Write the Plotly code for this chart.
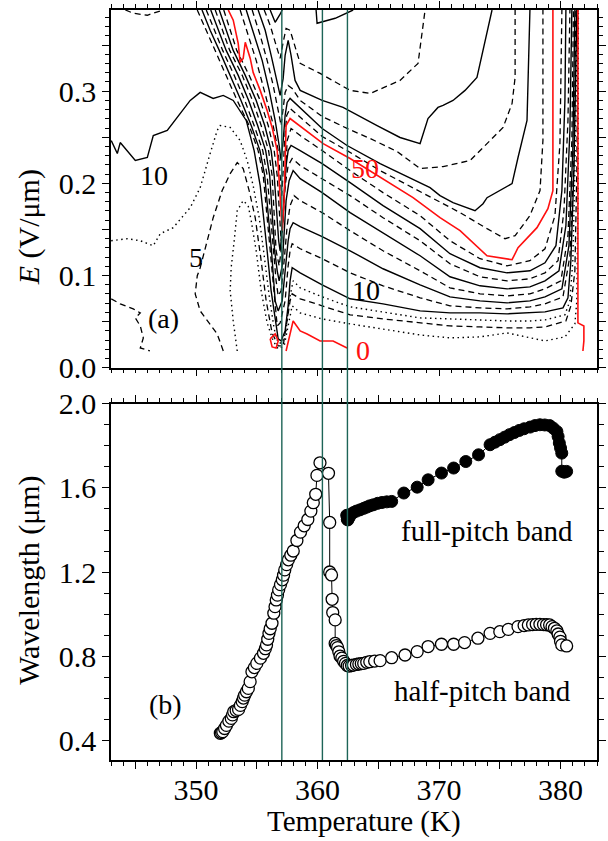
import plotly.graph_objects as go

# ---------------- panel (b): wavelength vs temperature ----------------
open_T = [352.0,352.1,352.2,352.35,352.5,352.7,352.9,353.0,353.1,353.3,
          353.5,353.65,353.8,353.9,354.0,354.15,354.3,354.45,354.6,354.8,
          355.0,355.3,355.55,355.7,355.8,355.9,356.0,356.1,356.25,356.4,
          356.5,356.6,356.7,356.8,356.95,357.1,357.2,357.3,357.45,357.6,
          357.8,358.0,358.3,358.6,358.9,359.2,359.45,359.65,359.85,359.95,
          360.2,360.9,361.0,361.0,361.15,361.2,361.25,361.45,361.45,361.55,
          361.65,361.75,361.85,362.0,362.15,362.3,362.45,362.6,362.8,362.95,
          363.2,363.4,363.6,363.8,364.05,364.3,364.7,365.15,366.1,367.2,
          368.2,369.1,370.2,371.2,372.1,373.2,374.2,375.0,375.7,376.5,
          377.0,377.35,377.7,378.0,378.3,378.6,378.85,379.1,379.3,379.5,
          379.7,379.8,379.95,380.0,380.1,380.5]
open_L = [0.432,0.436,0.44,0.455,0.47,0.49,0.503,0.52,0.535,0.541,
          0.546,0.565,0.583,0.60,0.614,0.63,0.646,0.678,0.725,0.745,
          0.765,0.79,0.813,0.835,0.853,0.88,0.908,0.93,0.956,1.004,
          1.035,1.067,1.09,1.115,1.14,1.163,1.185,1.21,1.235,1.258,
          1.28,1.30,1.35,1.39,1.42,1.45,1.49,1.53,1.57,1.66,
          1.72,1.67,1.436,1.20,1.186,1.07,1.007,0.972,0.86,0.85,
          0.84,0.82,0.80,0.79,0.775,0.765,0.755,0.752,0.755,0.757,
          0.76,0.762,0.764,0.765,0.77,0.773,0.776,0.778,0.792,0.805,
          0.821,0.845,0.856,0.856,0.864,0.885,0.908,0.916,0.927,0.94,
          0.945,0.948,0.95,0.951,0.951,0.95,0.949,0.948,0.94,0.932,
          0.92,0.905,0.89,0.87,0.853,0.848]
full_T = [362.4,362.45,362.5,362.6,362.75,362.95,363.2,363.5,363.8,364.05,
          364.3,364.6,364.95,365.3,365.7,366.1,367.1,368.2,369.1,370.2,
          371.2,372.2,373.25,374.2,374.6,375.0,375.4,375.8,376.2,376.6,
          377.0,377.5,377.9,378.3,378.7,379.1,379.4,379.7,379.8,379.9,
          380.0,380.1,380.1,380.3,380.5]
full_L = [1.47,1.45,1.448,1.46,1.475,1.483,1.49,1.496,1.503,1.509,
          1.515,1.52,1.527,1.531,1.534,1.536,1.576,1.604,1.639,1.671,
          1.695,1.726,1.758,1.806,1.818,1.83,1.842,1.854,1.864,1.874,
          1.882,1.89,1.897,1.901,1.9,1.897,1.885,1.869,1.845,1.814,
          1.79,1.766,1.68,1.675,1.679]

# marker temperatures (vertical lines)
vline_T = [357.06, 360.40, 362.46]

c0a_T = [356.10,356.26,356.59,356.76,356.51,356.10]
c0a_E = [.0312,.0225,.0214,.0290,.0366,.0312]
c0b_T = [357.41,357.74,357.99,358.57,359.14,360.21,361.28,362.43]
c0b_E = [.0181,.0366,.0507,.0399,.0366,.0290,.0290,.0214]
c0c_T = [381.43,381.43,381.92,381.92,381.84]
c0c_E = [.388,.0486,.0453,.0290,.0181]

c2p5_T = [353.39,353.06,352.81,352.89,353.14,353.39,353.88,354.29,354.54,354.95,
          355.36,355.85,356.35,356.76,357.25,357.58,357.91,358.57,360.38,362.68,
          365.39,368.44,370.90,373.37,375.60,377.48,378.72,380.36,381.18,381.34,
          381.43,381.47]
c2p5_E = [.0181,.0507,.0834,.1084,.1377,.1703,.1812,.1758,.1595,.1268,
          .0834,.0486,.0290,.0203,.0236,.0453,.0671,.0594,.0529,.0475,
          .0421,.0355,.0323,.0334,.0377,.0323,.0290,.0334,.0475,.0725,
          .1812,.388]

c5_T = [352.24,351.74,350.34,349.93,350.10,350.34,350.92,351.41,352.15,352.81,
        353.39,353.88,354.37,354.87,355.36,355.77,356.26,356.76,357.17,357.50,
        357.74,357.91,358.57,360.38,362.68,365.39,368.44,370.90,373.37,375.60,
        377.48,378.72,380.44,380.85,381.18,381.34,381.43]
c5_E = [.0181,.0366,.0616,.0801,.0997,.1084,.1377,.1627,.1921,.2105,
        .2225,.2160,.1921,.1627,.1160,.0725,.0377,.0236,.0236,.0507,
        .0725,.0801,.0747,.0671,.0573,.0529,.0486,.0453,.0442,.0432,
        .0432,.0442,.0507,.0671,.1051,.2138,.388]
c5b_T = [343.02,343.76,344.83,345.41,345.0,345.41,345.66,345.41,346.2]
c5b_E = [.0747,.0692,.0638,.0594,.0540,.0453,.0323,.0214,.0181]

c7p5_T = [343.02,344.34,345.41,346.48,347.05,348.12,349.52,350.34,351.16,351.74,
          351.99,352.81,353.63,354.21,354.70,355.20,355.61,356.02,356.43,356.76,
          357.09,357.41,357.66,357.99,358.57,360.38,362.68,365.39,368.44,370.90,
          373.37,375.60,377.48,378.72,380.36,380.77,381.01,381.18,381.38]
c7p5_E = [.1377,.1399,.1377,.1323,.1453,.1519,.1736,.1953,.2323,.2573,
          .2627,.2606,.2464,.2247,.1975,.1627,.1214,.0779,.0421,.0268,
          .0268,.0399,.0725,.0942,.0866,.0768,.0660,.0605,.0540,.0529,
          .0518,.0507,.0507,.0518,.0573,.0725,.1160,.2138,.388]

c10_T = [343.02,343.52,343.76,344.18,345.0,345.99,346.48,347.63,348.70,349.52,
         350.34,351.41,352.24,353.06,354.13,354.78,355.28,355.53,355.85,356.18,
         356.51,356.76,357.0,357.33,357.58,357.74,357.91,358.57,360.38,362.68,
         365.39,368.44,370.90,373.37,375.60,377.48,378.72,380.20,380.61,380.85,
         381.10,381.34]
c10_E = [.2464,.2323,.2442,.2377,.2247,.2280,.2518,.2573,.2758,.2899,
         .2986,.2921,.2953,.2899,.2682,.2355,.1975,.1627,.1268,.0834,
         .0507,.0312,.0290,.0399,.0671,.0942,.1084,.1029,.0899,.0747,
         .0692,.0616,.0594,.0594,.0584,.0594,.0605,.0649,.0758,.1160,
         .2138,.388]

c15_T = [350.10,350.84,351.62,352.48,353.38,354.37,355.11,355.53,355.85,356.07,
         356.43,356.68,356.92,357.33,357.58,357.74,357.91,358.57,360.38,362.68,
         365.39,368.44,370.90,373.37,375.60,377.48,378.72,380.20,380.77,381.10,
         381.26]
c15_E = [.388,.366,.3442,.3171,.2899,.2627,.2355,.2084,.1627,.1268,
         .0725,.0453,.0486,.0725,.1105,.1268,.1345,.1290,.1182,.1029,
         .0888,.0758,.0671,.0649,.0638,.0660,.0692,.0768,.1214,.2247,
         .388]

c20_T = [350.49,351.16,351.91,352.81,353.70,354.54,355.26,355.65,355.98,356.21,
         356.51,356.76,357.09,357.33,357.58,357.74,357.99,358.57,360.38,362.68,
         365.39,368.44,370.90,373.37,375.60,377.48,378.72,380.11,380.69,381.01,
         381.18]
c20_E = [.388,.366,.3442,.3171,.2899,.2627,.2355,.2084,.1627,.1268,
         .0725,.0616,.0725,.1051,.1377,.1508,.1573,.1529,.1421,.1268,
         .1073,.0899,.0768,.0725,.0703,.0725,.0768,.0855,.1323,.2355,
         .388]

c25_T = [350.84,351.49,352.19,353.14,354.01,354.78,355.49,355.85,356.14,356.34,
         356.59,356.76,357.0,357.25,357.50,357.74,358.07,358.57,360.38,362.68,
         365.39,368.44,370.90,373.37,375.60,377.48,378.72,380.03,380.61,380.93,
         381.06]
c25_E = [.388,.366,.3442,.3171,.2899,.2627,.2355,.2084,.1627,.1268,
         .0942,.0779,.0834,.1160,.1540,.1758,.1866,.1812,.1682,.1486,
         .1268,.1051,.0866,.0801,.0779,.0801,.0855,.0942,.1432,.2464,
         .388]

c30_T = [351.21,351.82,352.48,353.47,354.33,355.07,355.73,356.06,356.31,356.47,
         356.68,356.84,357.09,357.25,357.41,357.66,357.99,358.57,360.38,362.68,
         365.39,368.44,370.90,373.37,375.60,377.48,378.72,379.87,380.44,380.77,
         380.93]
c30_E = [.388,.366,.3442,.3171,.2899,.2627,.2355,.2084,.1627,.1268,
         .1051,.0942,.1105,.1432,.1812,.2029,.2138,.2051,.1899,.1682,
         .1464,.1214,.0986,.0888,.0855,.0877,.0942,.1051,.1540,.2573,
         .388]

c35_T = [351.58,352.15,352.77,353.80,354.65,355.36,355.97,356.26,356.47,356.59,
         356.84,357.0,357.17,357.33,357.58,357.91,358.57,360.38,362.68,365.39,
         368.44,370.90,373.37,375.60,377.48,378.72,379.79,380.28,380.61,380.77]
c35_E = [.388,.366,.3442,.3171,.2899,.2627,.2355,.2084,.1627,.1268,
         .1105,.1268,.1649,.1975,.2192,.2269,.2192,.2051,.1866,.1627,
         .1377,.1127,.0986,.0942,.0964,.1029,.1160,.1703,.2682,.388]

c40_T = [351.91,352.48,353.06,354.05,354.95,355.65,356.18,356.43,356.63,356.80,
         356.92,357.09,357.25,357.41,357.58,357.82,358.57,360.38,362.68,365.39,
         368.44,370.90,373.37,375.60,377.48,378.72,379.62,380.11,380.36,380.44]
c40_E = [.388,.366,.3442,.3171,.2899,.2627,.2355,.2084,.1627,.1377,
         .1268,.1486,.1866,.2192,.2355,.2410,.2355,.2214,.2007,.1758,
         .1508,.1236,.1084,.1029,.1051,.1138,.1323,.1921,.2899,.388]

c45_T = [352.28,352.81,353.35,354.37,355.28,355.94,356.43,356.68,356.84,357.0,
         357.17,357.33,357.50,357.82,358.57,360.38,362.68,365.39,368.44,370.90,
         373.37,375.60,377.48,378.72,379.54,379.95,380.11]
c45_E = [.388,.366,.3442,.3171,.2899,.2627,.2355,.2084,.1703,.1377,
         .1649,.2084,.2464,.2595,.2518,.2355,.2138,.1899,.1649,.1377,
         .1182,.1105,.1160,.1290,.1649,.2431,.388]

c50_T = [352.65,353.06,353.47,353.63,353.88,354.05,354.46,354.70,355.28,355.85,
         356.26,356.68,356.84,357.0,357.09,357.25,357.33,357.41,357.74,360.46,
         362.68,365.15,367.86,370.08,371.73,373.95,376.01,376.50,378.06,378.96,
         379.37,379.37]
c50_E = [.388,.377,.3518,.3312,.3355,.3529,.3355,.3203,.3008,.279,
         .2606,.2355,.2029,.1703,.1486,.1812,.2247,.2627,.2703,.2431,
         .2269,.2062,.1844,.1627,.1486,.1214,.1171,.1301,.1519,.1725,
         .1921,.388]

c55_T = [353.63,354.29,354.95,355.61,356.26,356.76,356.92,357.05,357.17,357.29,
         357.46,357.74,360.38,362.43,365.15,369.26,371.73,373.95,375.43,376.26,
         377.48,378.31,378.55,378.55]
c55_E = [.388,.3605,.3334,.3008,.2682,.2355,.2084,.1866,.2138,.2464,
         .2736,.2812,.2508,.2355,.2138,.1855,.1682,.1508,.1399,.1432,
         .1649,.1921,.2464,.388]

c60_T = [354.13,354.78,355.44,356.02,356.51,356.84,357.0,357.17,357.33,357.50,
         357.74,360.38,362.43,365.15,369.26,370.08,371.15,372.96,373.62,373.95,
         375.43,376.01,376.50,377.24,377.48]
c60_E = [.388,.3605,.3334,.3008,.2682,.2410,.2247,.2464,.2736,.2877,
         .2921,.2595,.2410,.2214,.1953,.1866,.1790,.1703,.1779,.1844,
         .1953,.1997,.2280,.2682,.388]

c65_T = [354.62,355.28,355.85,356.35,356.76,357.0,357.17,357.33,357.58,357.91,
         358.57,360.38,362.43,364.33,366.54,368.44,370.33,372.55,374.20,375.27,
         376.01,376.26,376.26]
c65_E = [.388,.3605,.3334,.3062,.279,.2627,.2812,.2986,.3062,.3029,
         .2899,.2725,.2595,.2486,.2345,.2160,.2181,.2247,.2464,.2606,
         .2866,.3149,.388]

c70_T = [355.11,355.69,356.18,356.59,356.92,357.17,357.33,357.58,357.82,358.15,
         358.57,360.38,362.10,364.90,366.79,368.44,369.09,369.91,370.33,371.15,
         372.14,373.12,373.62,374.36]
c70_E = [.388,.366,.3388,.3138,.2953,.3138,.3388,.355,.3388,.3116,
         .3008,.2899,.2823,.2627,.2497,.2431,.2703,.2823,.2845,.2899,
         .3008,.3149,.3442,.388]

c75_T = [355.61,356.10,356.59,356.92,357.17,357.41,357.74,358.57,360.21,362.68,
         364.33,366.79,368.27,368.85]
c75_E = [.388,.3714,.3497,.3355,.3529,.3681,.366,.3301,.3192,.3008,
         .2975,.3116,.3301,.388]

c80a_T = [359.88,359.96,361.45,362.93]
c80a_E = [.388,.3736,.379,.388]
c80b_T = [356.10,356.51,356.92,357.09]
c80b_E = [.388,.3747,.3834,.388]

c15b_T = [344.18,344.83,345.99,347.30]
c15b_E = [.388,.3845,.3823,.388]

contour_lines = [
    (c2p5_T, c2p5_E, 'dot'), (c5_T, c5_E, 'dash'), (c5b_T, c5b_E, 'dash'),
    (c7p5_T, c7p5_E, 'dot'), (c10_T, c10_E, 'solid'), (c15_T, c15_E, 'dash'),
    (c15b_T, c15b_E, 'dash'), (c20_T, c20_E, 'solid'), (c25_T, c25_E, 'dash'),
    (c30_T, c30_E, 'solid'), (c35_T, c35_E, 'dash'), (c40_T, c40_E, 'solid'),
    (c45_T, c45_E, 'dash'), (c55_T, c55_E, 'dash'), (c60_T, c60_E, 'solid'),
    (c65_T, c65_E, 'dash'), (c70_T, c70_E, 'solid'), (c75_T, c75_E, 'dash'),
    (c80a_T, c80a_E, 'solid'), (c80b_T, c80b_E, 'solid'),
    (c0a_T, c0a_E, 'red'), (c0b_T, c0b_E, 'red'), (c0c_T, c0c_E, 'red'),
    (c50_T, c50_E, 'red'),
]

styles = {
    'solid': dict(color='black', width=1.4, dash='solid'),
    'dash': dict(color='black', width=1.3, dash='6px,4px'),
    'dot': dict(color='black', width=1.4, dash='1.5px,3.5px'),
    'red': dict(color='#ff1010', width=1.6, dash='solid'),
}

FONT = 'Liberation Serif, Times New Roman, Times, serif'
fig = go.Figure()

for T, E, st in contour_lines:
    fig.add_trace(go.Scatter(x=T, y=E, mode='lines', line=styles[st],
                             xaxis='x2', yaxis='y2', hoverinfo='skip'))

fig.add_trace(go.Scatter(x=open_T, y=open_L, mode='lines+markers',
                         line=dict(color='black', width=1),
                         marker=dict(symbol='circle', size=12, color='white',
                                     line=dict(color='black', width=1.3)),
                         xaxis='x', yaxis='y'))
fig.add_trace(go.Scatter(x=full_T, y=full_L, mode='lines+markers',
                         line=dict(color='black', width=1),
                         marker=dict(symbol='circle', size=12, color='black',
                                     line=dict(color='black', width=1)),
                         xaxis='x', yaxis='y'))

for t in vline_T:
    fig.add_shape(type='line', xref='x', yref='paper', x0=t, x1=t, y0=0, y1=1,
                  line=dict(color='#1d6457', width=1.4), layer='above')

axis_common = dict(showline=True, linecolor='black', linewidth=1.5, mirror='ticks',
                   ticks='outside', ticklen=7, tickwidth=1.2, tickcolor='black',
                   showgrid=False, zeroline=False, automargin=False,
                   tickfont=dict(family=FONT, size=30, color='black'))

x_vals = [345, 350, 355, 360, 365, 370, 375, 380]
x_text = ['', '350', '', '360', '', '370', '', '380']

fig.update_layout(
    width=608, height=841,
    margin=dict(l=111, r=11, t=10, b=81),
    plot_bgcolor='white', paper_bgcolor='white', showlegend=False,
    xaxis=dict(domain=[0, 1], anchor='y', range=[343, 383], tickmode='array',
               tickvals=x_vals, ticktext=x_text, ticklabelstandoff=-5,
               minor=dict(ticks='outside', ticklen=4, tickcolor='black', tickwidth=1,
                          tickmode='linear', tick0=0, dtick=1, showgrid=False),
               **axis_common),
    yaxis=dict(domain=[0, 0.4747], anchor='x', range=[0.305, 2.0], tickmode='array',
               tickvals=[0.4, 0.8, 1.2, 1.6, 2.0], ticktext=['0.4', '0.8', '1.2', '1.6', '2.0'],
               minor=dict(ticks='outside', ticklen=5, tickcolor='black', tickwidth=1,
                          tickmode='linear', tick0=0, dtick=0.1, showgrid=False),
               **axis_common),
    xaxis2=dict(domain=[0, 1], anchor='y2', range=[343, 383], tickmode='array',
                tickvals=x_vals, ticktext=x_text, showticklabels=False,
                minor=dict(ticks='outside', ticklen=4, tickcolor='black', tickwidth=1,
                           tickmode='linear', tick0=0, dtick=1, showgrid=False),
                **axis_common),
    yaxis2=dict(domain=[0.5231, 1], anchor='x2', range=[0, 0.388], tickmode='array',
                tickvals=[0, 0.05, 0.1, 0.15, 0.2, 0.25, 0.3, 0.35],
                ticktext=['0.0', '', '0.1', '', '0.2', '', '0.3', ''],
                minor=dict(ticks='outside', ticklen=4, tickcolor='black', tickwidth=1,
                           tickmode='linear', tick0=0, dtick=0.01, showgrid=False),
                **axis_common),
)

ann = []
def lab(text, x, y, xref, yref, color='black', size=28):
    ann.append(dict(text=text, x=x, y=y, xref=xref, yref=yref, showarrow=False,
                    font=dict(family=FONT, size=size, color=color),
                    xanchor='center', yanchor='middle'))

lab('10', 346.55, 0.208, 'x2', 'y2')
lab('5', 350.0, 0.119, 'x2', 'y2')
lab('(a)', 347.3, 0.053, 'x2', 'y2')
lab('50', 363.9, 0.216, 'x2', 'y2', color='#ff1010')
lab('10', 364.0, 0.084, 'x2', 'y2')
lab('0', 363.7, 0.019, 'x2', 'y2', color='#ff1010')
lab('(b)', 347.5, 0.567, 'x', 'y')
lab('full-pitch band', 373.95, 1.396, 'x', 'y', size=29)
lab('half-pitch band', 373.6, 0.633, 'x', 'y', size=29)

ann.append(dict(text='<i>E</i> (V/μm)', x=-0.168, y=0.7107, xref='paper', yref='paper',
                showarrow=False, textangle=-90, xanchor='center', yanchor='middle',
                font=dict(family=FONT, size=30, color='black')))
ann.append(dict(text='Wavelength (μm)', x=-0.169, y=0.24, xref='paper', yref='paper',
                showarrow=False, textangle=-90, xanchor='center', yanchor='middle',
                font=dict(family=FONT, size=30, color='black')))
ann.append(dict(text='Temperature (K)', x=0.5206, y=-0.0815, xref='paper', yref='paper',
                showarrow=False, xanchor='center', yanchor='middle',
                font=dict(family=FONT, size=29, color='black')))
fig.update_layout(annotations=ann)

fig.write_html('out.html')
